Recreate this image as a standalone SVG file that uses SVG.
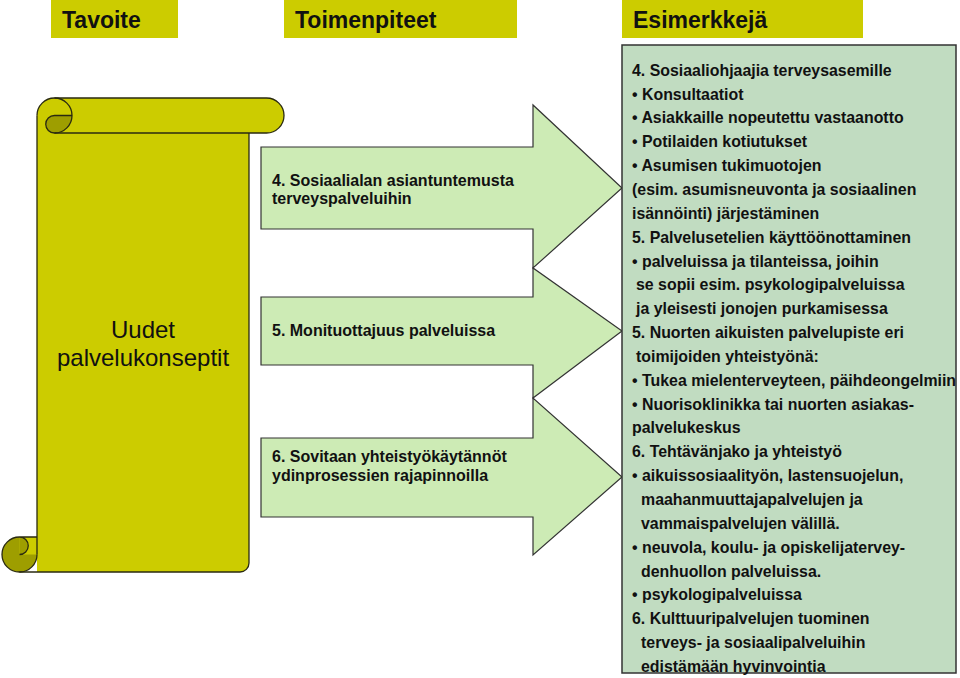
<svg xmlns="http://www.w3.org/2000/svg" width="960" height="678" viewBox="0 0 960 678">
<style>
.hdr{fill:#cccc00}
.htx{font-family:"Liberation Sans",Arial,sans-serif;font-weight:bold;font-size:23px;fill:#111}
.lite{fill:#cccc00}
.dark{fill:#9e9e00}
.ol{fill:none;stroke:#2a2a10;stroke-width:1.3}
.arr{fill:#cdebb5;stroke:#333;stroke-width:1.2}
.atx{font-family:"Liberation Sans",Arial,sans-serif;font-weight:bold;font-size:16px;fill:#111}
.box{fill:#c1dcc1;stroke:#333;stroke-width:1.5}
.btx{font-family:"Liberation Sans",Arial,sans-serif;font-weight:bold;font-size:15.9px;fill:#111}
.stx{font-family:"Liberation Sans",Arial,sans-serif;font-size:24px;fill:#111;text-anchor:middle}
</style>
<rect width="960" height="678" fill="#fff"/>
<g id="header-tavoite"><rect class="hdr" x="51" y="0" width="127" height="38"/><text class="htx" x="62" y="28">Tavoite</text></g>
<g id="header-toimenpiteet"><rect class="hdr" x="284" y="0" width="233" height="38"/><text class="htx" x="295" y="28">Toimenpiteet</text></g>
<g id="header-esimerkkeja"><rect class="hdr" x="622" y="0" width="241" height="38"/><text class="htx" x="633" y="28">Esimerkkejä</text></g>

<g id="scroll">
<path class="lite" d="M37,115.5 H249 V563 A9,9 0 0 1 240,572 H37 Z"/>
<path class="lite" d="M54.5,98 H266.5 A17.5,17.5 0 0 1 266.5,133 H54.5 A17.5,17.5 0 0 1 54.5,98 Z"/>
<path class="dark" d="M54.5,115.5 H72 A17.5,17.5 0 0 1 54.5,133 A8.75,8.75 0 0 1 54.5,115.5 Z"/>
<circle class="dark" cx="19.5" cy="554.5" r="17.5"/>
<rect class="lite" x="19.5" y="537" width="17.5" height="17.5"/>
<path class="dark" d="M19.5,537 A8.75,8.75 0 0 1 19.5,554.5 Z"/>
<path class="ol" d="M37,115.5 V554.5 M19.5,572 H240 A9,9 0 0 0 249,563 V133"/>
<path class="ol" d="M37,115.5 A17.5,17.5 0 0 1 54.5,98 H266.5 A17.5,17.5 0 0 1 266.5,133 H54.5"/>
<path class="ol" d="M54.5,98 A17.5,17.5 0 0 1 54.5,133 A8.75,8.75 0 0 1 54.5,115.5 H72"/>
<path class="ol" d="M37,554.5 A17.5,17.5 0 1 1 19.5,537 H37 M19.5,537 A8.75,8.75 0 0 1 19.5,554.5"/>
<text class="stx" x="143" y="338">Uudet</text>
<text class="stx" x="143" y="366">palvelukonseptit</text>
</g>

<g id="connectors"></g>

<g id="arrow-4">
<path class="arr" d="M261,147 H533 V105 L622,188 L533,268 V229 H261 Z"/>
<text class="atx" x="272" y="186">4. Sosiaalialan asiantuntemusta</text>
<text class="atx" x="272" y="204">terveyspalveluihin</text>
</g>
<g id="arrow-5">
<path class="arr" d="M261,297 H533 V268 L622,331 L533,398 V365 H261 Z"/>
<text class="atx" x="272" y="336">5. Monituottajuus palveluissa</text>
</g>
<g id="arrow-6">
<path class="arr" d="M261,438 H533 V398 L622,477 L533,555 V517 H261 Z"/>
<text class="atx" x="272" y="461.5">6. Sovitaan yhteistyökäytännöt</text>
<text class="atx" x="272" y="480.5">ydinprosessien rajapinnoilla</text>
</g>

<g id="examples">
<rect class="box" x="622" y="45" width="334" height="628"/>
<text class="btx" x="632" y="75.7">4. Sosiaaliohjaajia terveysasemille</text>
<text class="btx" x="632" y="99.5">• Konsultaatiot</text>
<text class="btx" x="632" y="123.4">• Asiakkaille nopeutettu vastaanotto</text>
<text class="btx" x="632" y="147.2">• Potilaiden kotiutukset</text>
<text class="btx" x="632" y="171.1">• Asumisen tukimuotojen</text>
<text class="btx" x="632" y="194.9">(esim. asumisneuvonta ja sosiaalinen</text>
<text class="btx" x="632" y="218.8">isännöinti) järjestäminen</text>
<text class="btx" x="632" y="242.6">5. Palvelusetelien käyttöönottaminen</text>
<text class="btx" x="632" y="266.5">• palveluissa ja tilanteissa, joihin</text>
<text class="btx" x="636" y="290.3">se sopii esim. psykologipalveluissa</text>
<text class="btx" x="636" y="314.2">ja yleisesti jonojen purkamisessa</text>
<text class="btx" x="632" y="338">5. Nuorten aikuisten palvelupiste eri</text>
<text class="btx" x="636" y="361.9">toimijoiden yhteistyönä:</text>
<text class="btx" x="632" y="385.7">• Tukea mielenterveyteen, päihdeongelmiin</text>
<text class="btx" x="632" y="409.6">• Nuorisoklinikka tai nuorten asiakas-</text>
<text class="btx" x="632" y="433.4">palvelukeskus</text>
<text class="btx" x="632" y="457.3">6. Tehtävänjako ja yhteistyö</text>
<text class="btx" x="632" y="481.1">• aikuissosiaalityön, lastensuojelun,</text>
<text class="btx" x="641" y="505">maahanmuuttajapalvelujen ja</text>
<text class="btx" x="641" y="528.8">vammaispalvelujen välillä.</text>
<text class="btx" x="632" y="552.7">• neuvola, koulu- ja opiskelijatervey-</text>
<text class="btx" x="641" y="576.5">denhuollon palveluissa.</text>
<text class="btx" x="632" y="600.4">• psykologipalveluissa</text>
<text class="btx" x="632" y="624.2">6. Kulttuuripalvelujen tuominen</text>
<text class="btx" x="641" y="648.1">terveys- ja sosiaalipalveluihin</text>
<text class="btx" x="641" y="671.9">edistämään hyvinvointia</text>
</g>
</svg>
